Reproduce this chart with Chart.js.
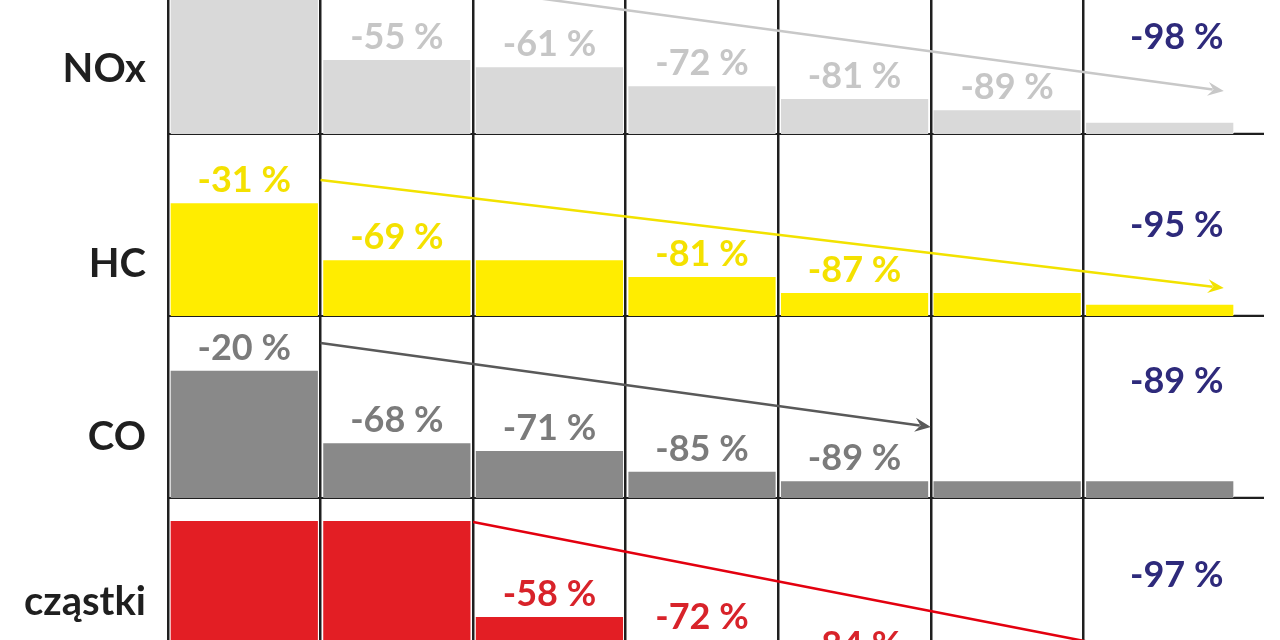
<!DOCTYPE html>
<html>
<head>
<meta charset="utf-8">
<script src="https://cdn.jsdelivr.net/npm/chart.js@4.4.1/dist/chart.umd.min.js"></script>
<style>
  html, body { margin: 0; padding: 0; background: #fff; overflow: hidden; }
  body { width: 1280px; height: 640px; position: relative; }
  .row { position: absolute; left: 0; width: 1280px; height: 183px; }
</style>
</head>
<body>
<div class="row" style="top:-48px"><canvas id="row-nox" width="1280" height="183"></canvas></div>
<div class="row" style="top:134px"><canvas id="row-hc" width="1280" height="183"></canvas></div>
<div class="row" style="top:316px"><canvas id="row-co" width="1280" height="183"></canvas></div>
<div class="row" style="top:498px"><canvas id="row-pm" width="1280" height="183"></canvas></div>
<script>
// emission stages (axis labels are cut off in the reference, kept hidden)
const stages = ["Euro 0", "Euro 1", "Euro 2", "Euro 3", "Euro 4", "Euro 5", "Euro 6"];
const pollutants = ["NOx", "HC", "CO", "cząstki"];

// remaining emission, % of the first stage (bar heights)
const noxValues = [100, 46.5, 42, 30, 22, 15, 7];
const hcValues = [71, 35, 35, 24.5, 14.5, 14.5, 7];
const coValues = [80, 34.5, 29.5, 16.5, 10.5, 10.5, 10.5];
const pmValues = [100, 100, 39.6, 25, 7.5, 7.5, 3];

// reduction labels shown above the bars
const noxLabels = ["", "-55 %", "-61 %", "-72 %", "-81 %", "-89 %", "-98 %"];
const hcLabels = ["-31 %", "-69 %", "", "-81 %", "-87 %", "", "-95 %"];
const coLabels = ["-20 %", "-68 %", "-71 %", "-85 %", "-89 %", "", "-89 %"];
const pmLabels = ["", "", "-58 %", "-72 %", "-84 %", "", "-97 %"];

// trend arrows: [stage position, value] start and end
const noxTrend = [[0.5, 104], [6.42, 27]];
const hcTrend = [[0.5, 85.5], [6.42, 17.6]];
const coTrend = [[0.5, 97.5], [4.5, 44.7]];
const pmTrend = [[1.5, 99.4], [6.42, 7.5]];

const GRID = "#1f1f1f";
const SUMMARY = "#2e2a7b";
const Y_MAX = 114.5;

const rows = [
  { id: "row-nox", values: noxValues, labels: noxLabels, trend: noxTrend,
    bar: "#d9d9d9", text: "#c6c6c6", arrow: "#c8c8c8", nameY: 130, summaryY: 53.5 },
  { id: "row-hc", values: hcValues, labels: hcLabels, trend: hcTrend,
    bar: "#ffed00", text: "#f4e100", arrow: "#f2e200", nameY: 143, summaryY: 50 },
  { id: "row-co", values: coValues, labels: coLabels, trend: coTrend,
    bar: "#898989", text: "#7b7b7b", arrow: "#595959", nameY: 134, summaryY: 66 },
  { id: "row-pm", values: pmValues, labels: pmLabels, trend: pmTrend,
    bar: "#e31e24", text: "#d8232a", arrow: "#e3000f", nameY: 117, summaryY: 58.5 },
];

const drawArrow = (ctx, x0, y0, x1, y1, color) => {
  const angle = Math.atan2(y1 - y0, x1 - x0);
  const cos = Math.cos(angle);
  const sin = Math.sin(angle);
  const head = 16;
  const half = 7;
  ctx.strokeStyle = color;
  ctx.fillStyle = color;
  ctx.lineWidth = 2.5;
  ctx.beginPath();
  ctx.moveTo(x0, y0);
  ctx.lineTo(x1 - head * 0.7 * cos, y1 - head * 0.7 * sin);
  ctx.stroke();
  ctx.beginPath();
  ctx.moveTo(x1, y1);
  ctx.lineTo(x1 - head * cos + half * sin, y1 - head * sin - half * cos);
  ctx.lineTo(x1 - head * 0.65 * cos, y1 - head * 0.65 * sin);
  ctx.lineTo(x1 - head * cos - half * sin, y1 - head * sin + half * cos);
  ctx.closePath();
  ctx.fill();
};

const rowDecor = {
  id: "rowDecor",
  afterDatasetsDraw(chart, args, opts) {
    const { ctx, chartArea } = chart;
    const xScale = chart.scales.x;
    const yScale = chart.scales.y;
    ctx.save();

    // bottom line runs a little past the last column
    ctx.strokeStyle = GRID;
    ctx.lineWidth = 2.5;
    ctx.beginPath();
    ctx.moveTo(chartArea.right - 2, xScale.top);
    ctx.lineTo(chartArea.right + 28, xScale.top);
    ctx.stroke();

    const [start, end] = opts.trend;
    drawArrow(
      ctx,
      xScale.getPixelForValue(start[0]), yScale.getPixelForValue(start[1]),
      xScale.getPixelForValue(end[0]), yScale.getPixelForValue(end[1]),
      opts.arrow,
    );

    ctx.font = "bold 36px Lato";
    ctx.textAlign = "center";
    ctx.textBaseline = "alphabetic";
    const meta = chart.getDatasetMeta(0);
    meta.data.forEach((bar, i) => {
      const text = opts.labels[i];
      if (!text) return;
      if (i === opts.labels.length - 1) {
        ctx.fillStyle = SUMMARY;
        ctx.fillText(text, bar.x + 17, yScale.getPixelForValue(opts.summaryY));
      } else {
        ctx.fillStyle = opts.text;
        ctx.fillText(text, bar.x, bar.y - 11);
      }
    });

    ctx.font = "bold 40px Lato";
    ctx.textAlign = "right";
    ctx.fillStyle = GRID;
    ctx.fillText(opts.name, chartArea.left - 22, chartArea.top + opts.nameY);
    ctx.restore();
  },
};

rows.forEach((row, r) => {
  new Chart(document.getElementById(row.id), {
    type: "bar",
    data: {
      labels: stages,
      datasets: [
        {
          label: pollutants[r],
          data: row.values,
          backgroundColor: row.bar,
          categoryPercentage: 1,
          barPercentage: 0.965,
        },
      ],
    },
    options: {
      responsive: false,
      animation: false,
      layout: { padding: { left: 168, right: 44, top: 0, bottom: 1 } },
      scales: {
        x: {
          ticks: { display: false },
          grid: {
            offset: true,
            drawTicks: false,
            lineWidth: 2.5,
            color: (c) => (c.tick ? GRID : "rgba(0,0,0,0)"),
          },
          border: { display: true, color: GRID, width: 2.5 },
        },
        y: { display: false, min: 0, max: Y_MAX },
      },
      plugins: {
        legend: { display: false },
        tooltip: { enabled: false },
        rowDecor: { ...row, name: pollutants[r] },
      },
    },
    plugins: [rowDecor],
  });
});
</script>
</body>
</html>
